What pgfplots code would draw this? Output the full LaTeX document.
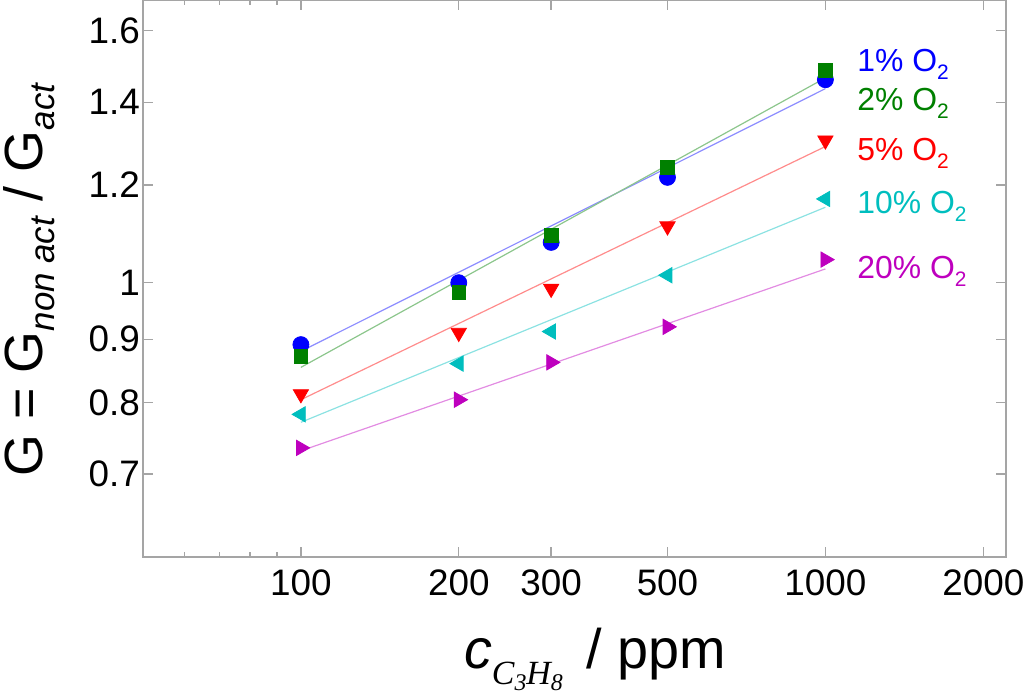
\documentclass[border=0pt]{standalone}
\usepackage{fontspec}
\setmainfont{Liberation Sans}
\newfontfamily\timesfont{Liberation Serif}
\usepackage{pgfplots}
\pgfplotsset{compat=1.18}
\definecolor{axgray}{RGB}{165,165,165}
\definecolor{cB}{RGB}{0,0,255}
\definecolor{cG}{RGB}{0,128,0}
\definecolor{cR}{RGB}{255,0,0}
\definecolor{cC}{RGB}{0,190,190}
\definecolor{cM}{RGB}{190,0,190}
\begin{document}
\begin{tikzpicture}
\begin{axis}[name=ax, scale only axis, width=431.5bp, height=278.35bp,
  xmode=log, ymode=log, xmin=50, xmax=2210, ymin=0.6, ymax=1.694,
  axis line style={axgray, line width=0.9bp},
  tick style={axgray, line width=0.7bp},
  xtick={100,200,300,500,1000,2000}, xticklabels={100,200,300,500,1000,2000},
  minor xtick={60,70,80,90},
  ytick={0.7,0.8,0.9,1,1.2,1.4,1.6}, yticklabels={0.7,0.8,0.9,1,1.2,1.4,1.6},
  yminorticks=false,
  major tick length=5bp, minor tick length=2.5bp,
  tick align=inside,
  ticklabel style={font=\fontsize{18.5}{18.5}\selectfont, text=black},
  xticklabel style={yshift=-3bp},
  yticklabel style={xshift=2bp},
  clip=false,
]
% fitted lines
\addplot[cB!45!white, line width=0.6bp, no marks] coordinates {(100,0.880) (1000,1.436)};
\addplot[cG!45!white, line width=0.6bp, no marks] coordinates {(100,0.854) (1000,1.465)};
\addplot[cR!45!white, line width=0.6bp, no marks] coordinates {(100,0.804) (1000,1.289)};
\addplot[cC!45!white, line width=0.6bp, no marks] coordinates {(100,0.771) (1000,1.151)};
\addplot[cM!45!white, line width=0.6bp, no marks] coordinates {(100,0.731) (1000,1.026)};
% data
\addplot[only marks, mark=*, mark size=4bp, mark options={draw=cB, fill=cB}]
  coordinates {(100,0.891) (200,1.000) (300,1.078) (500,1.217) (1000,1.460)};
\addplot[only marks, mark=square*, mark size=3.4bp, mark options={draw=cG, fill=cG}]
  coordinates {(100,0.872) (200,0.982) (300,1.092) (500,1.240) (1000,1.485)};
\addplot[only marks, mark=triangle*, mark size=4.4bp, mark options={draw=cR, fill=cR, rotate=180}]
  coordinates {(100,0.8125) (200,0.911) (300,0.989) (500,1.111) (1000,1.304)};
\addplot[only marks, mark=triangle*, mark size=4.4bp, mark options={draw=cC, fill=cC, rotate=90}]
  coordinates {(100,0.7825) (200,0.860) (300,0.913) (500,1.014) (1000,1.169)};
\addplot[only marks, mark=triangle*, mark size=4.4bp, mark options={draw=cM, fill=cM, rotate=-90}]
  coordinates {(100,0.735) (200,0.804) (300,0.862) (500,0.921) (1000,1.044)};
% series labels
\tikzset{slab/.style={anchor=base west, inner sep=0pt, font=\fontsize{16}{16}\selectfont}}
\node[slab, text=cB] at (rel axis cs:0.8273,0.8707) {1\% O\raisebox{-4bp}{\fontsize{10.5}{10.5}\selectfont 2}};
\node[slab, text=cG] at (rel axis cs:0.8273,0.8020) {2\% O\raisebox{-4bp}{\fontsize{10.5}{10.5}\selectfont 2}};
\node[slab, text=cR] at (rel axis cs:0.8273,0.7122) {5\% O\raisebox{-4bp}{\fontsize{10.5}{10.5}\selectfont 2}};
\node[slab, text=cC] at (rel axis cs:0.8273,0.6171) {10\% O\raisebox{-4bp}{\fontsize{10.5}{10.5}\selectfont 2}};
\node[slab, text=cM] at (rel axis cs:0.8273,0.5004) {20\% O\raisebox{-4bp}{\fontsize{10.5}{10.5}\selectfont 2}};
% axis labels
\node[rotate=90, anchor=base, inner sep=0pt, font=\fontsize{27}{27}\selectfont] at (rel axis cs:-0.1165,0.497)
  {G = G\raisebox{-6bp}{\fontsize{17.5}{17.5}\selectfont\itshape non act} / G\raisebox{-6bp}{\fontsize{17.5}{17.5}\selectfont\itshape act}};
\node[anchor=base, inner sep=0pt, font=\fontsize{28}{28}\selectfont] at (rel axis cs:0.524,-0.2)
  {{\itshape c}\raisebox{-8bp}{\timesfont\itshape\fontsize{17}{17}\selectfont C\raisebox{-3bp}{\fontsize{12}{12}\selectfont 3}H\raisebox{-3bp}{\fontsize{12}{12}\selectfont 8}}\hspace{12bp}/ ppm};
\end{axis}
\pgfresetboundingbox
\path ([shift={(-71.5bp,-69.65bp)}]ax.south west) rectangle ([shift={(9bp,0bp)}]ax.north east);
\end{tikzpicture}
\end{document}
